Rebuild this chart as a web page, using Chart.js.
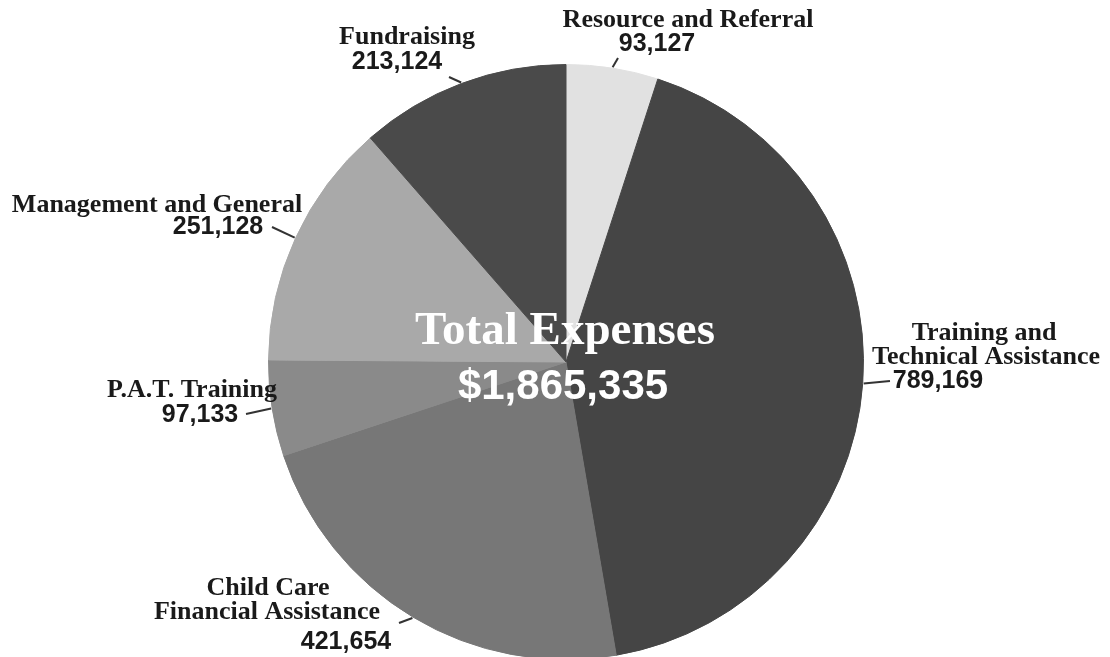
<!DOCTYPE html>
<html lang="en">
<head>
  <meta charset="UTF-8">
  <title>Total Expenses</title>
  <script src="https://cdn.jsdelivr.net/npm/chart.js"></script>
  <style>
    html, body { margin: 0; padding: 0; background: #fff; overflow: hidden; }
    #wrap { width: 1110px; height: 670px; }
  </style>
</head>
<body>
  <div id="wrap">
    <canvas id="expenseChart" width="1110" height="670"></canvas>
  </div>

  <script>
    // slices, clockwise from 12 o'clock
    const categories = [
      ['Resource and Referral'],
      ['Training and', 'Technical Assistance'],
      ['Child Care', 'Financial Assistance'],
      ['P.A.T. Training'],
      ['Management and General'],
      ['Fundraising']
    ];
    const amounts = [93127, 789169, 421654, 97133, 251128, 213124];
    const sliceColors = ['#e1e1e1', '#454545', '#777777', '#8a8a8a', '#a9a9a9', '#4a4a4a'];
    const totalTitle = 'Total Expenses';

    // label placement: name line centres, number centre, end of leader line
    const labelPos = [
      { names: [[688, 20]], num: [657, 44], tip: [618, 58] },
      { names: [[984, 333], [986, 357]], num: [938, 381], tip: [890, 381] },
      { names: [[268, 588], [267, 612]], num: [346, 642], tip: [399, 623] },
      { names: [[192, 390]], num: [200, 415], tip: [246, 414] },
      { names: [[157, 205]], num: [218, 227], tip: [272, 227] },
      { names: [[407, 37], []], num: [397, 62], tip: [449, 77] }
    ];

    const fmt = n => n.toLocaleString('en-US');
    const total = amounts.reduce((a, b) => a + b, 0);

    const labelPlugin = {
      id: 'pieLabels',
      afterDatasetsDraw(chart) {
        const ctx = chart.ctx;
        const arcs = chart.getDatasetMeta(0).data;
        ctx.save();
        ctx.textAlign = 'center';
        ctx.textBaseline = 'middle';
        arcs.forEach((arc, i) => {
          const p = labelPos[i];
          const mid = (arc.startAngle + arc.endAngle) / 2;
          const r = arc.outerRadius + 1;
          // leader line from rim to label
          ctx.strokeStyle = '#333';
          ctx.lineWidth = 2;
          ctx.beginPath();
          ctx.moveTo(arc.x + Math.cos(mid) * r, arc.y + Math.sin(mid) * r);
          ctx.lineTo(p.tip[0], p.tip[1]);
          ctx.stroke();

          ctx.fillStyle = '#1a1a1a';
          ctx.font = 'bold 26px "Liberation Serif", "DejaVu Serif", serif';
          categories[i].forEach((line, k) => {
            const pos = p.names[k];
            if (pos && pos.length) ctx.fillText(line, pos[0], pos[1]);
          });
          ctx.font = 'bold 25px "Liberation Sans", Arial, sans-serif';
          ctx.fillText(fmt(amounts[i]), p.num[0], p.num[1]);
        });

        // centre title
        const cx = arcs[0].x, cy = arcs[0].y;
        ctx.fillStyle = '#ffffff';
        ctx.font = 'bold 47px "Liberation Serif", "DejaVu Serif", serif';
        ctx.fillText(totalTitle, cx - 1, cy - 30);
        ctx.font = 'bold 42px "Liberation Sans", Arial, sans-serif';
        ctx.fillText('$' + fmt(total), cx - 3, cy + 25);
        ctx.restore();
      }
    };

    new Chart(document.getElementById('expenseChart'), {
      type: 'pie',
      data: {
        labels: categories.map(c => c.join(' ')),
        datasets: [{
          data: amounts,
          backgroundColor: sliceColors,
          borderColor: sliceColors,
          borderWidth: 1
        }]
      },
      options: {
        responsive: false,
        animation: false,
        events: [],
        layout: { padding: { left: 268, right: 246, top: 64, bottom: 10 } },
        plugins: {
          legend: { display: false },
          tooltip: { enabled: false }
        }
      },
      plugins: [labelPlugin]
    });
  </script>
</body>
</html>
